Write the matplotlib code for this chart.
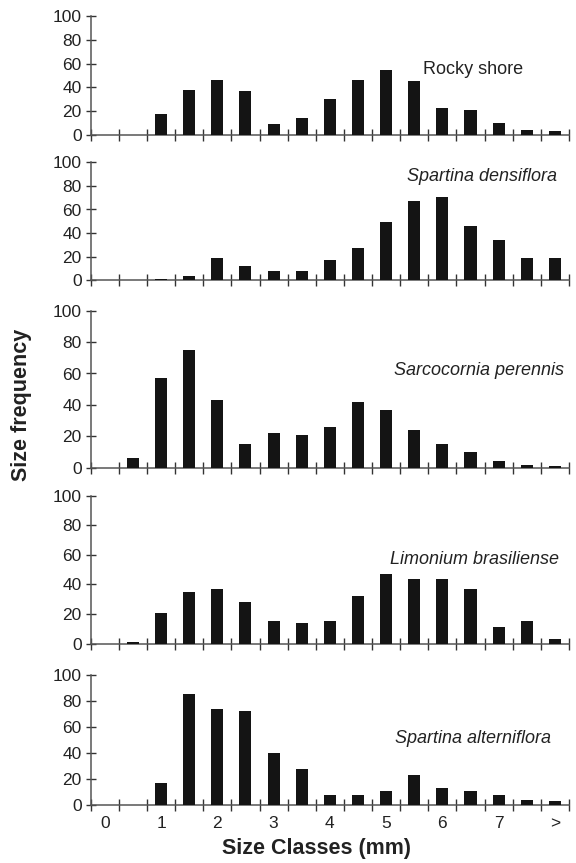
"""
Size-class frequency histograms for five habitats
(stacked panels, shared size-class axis).
"""

import numpy as np
import matplotlib
matplotlib.use("Agg")
import matplotlib.pyplot as plt


# ---------------------------------------------------------
# Data
# ---------------------------------------------------------

class_labels = ["0", "1", "2", "3", "4", "5", "6", "7", ">"]

habitats = [
    "Rocky shore",
    "Spartina densiflora",
    "Sarcocornia perennis",
    "Limonium brasiliense",
    "Spartina alterniflora",
]

rocky_shore = [0, 0, 18, 38, 46, 37, 9, 14, 30, 46, 55, 45, 23, 21, 10, 4, 3]
spartina_densiflora = [0, 0, 1.5, 4, 19, 12, 8, 8, 17, 27, 49, 67, 71, 46, 34, 19, 19]
sarcocornia_perennis = [0, 6, 57, 75, 43, 15, 22, 21, 26, 42, 37, 24, 15, 10, 4, 2, 1]
limonium_brasiliense = [0, 1, 21, 35, 37, 28, 15, 14, 15, 32, 47, 44, 44, 37, 11, 15, 3]
spartina_alterniflora = [0, 0, 17, 85, 74, 72, 40, 28, 8, 8, 11, 23, 13, 11, 8, 4, 3]

series = [rocky_shore, spartina_densiflora, sarcocornia_perennis,
          limonium_brasiliense, spartina_alterniflora]


# ---------------------------------------------------------
# Layout (pixels in a 576 x 863 canvas)
# ---------------------------------------------------------

W, H = 576, 863
X0, X1 = 90.7, 569
panel_px = [(16, 135), (162.3, 280.3), (310.7, 467.7), (495.7, 643.7), (674.7, 805)]

# label anchor (right edge, axes fraction x, data y)
label_pos = [(0.905, 55), (0.975, 88), (0.99, 62), (0.98, 57), (0.963, 51)]
label_style = ["normal", "italic", "italic", "italic", "italic"]

BAR = "#141414"
AXC = "#555555"
TXT = "#222222"

plt.rcParams["font.family"] = ["Liberation Sans", "DejaVu Sans"]


def draw_panel(ax, values, name, pos, style, last):

    n = len(values)
    x = np.arange(n) + 0.5

    ax.bar(x, values, width=0.43, color=BAR, edgecolor="none", zorder=3)

    ax.set_xlim(0, n)
    ax.set_ylim(0, 100)

    for s in ["top", "right"]:
        ax.spines[s].set_visible(False)
    for s in ["left", "bottom"]:
        ax.spines[s].set_color(AXC)
        ax.spines[s].set_linewidth(1.1)

    ax.set_yticks([0, 20, 40, 60, 80, 100])
    ax.tick_params(axis="y", direction="inout", length=7, width=1.0,
                   color="#333333", labelsize=12.5, labelcolor=TXT, pad=3)

    ax.set_xticks(np.arange(n + 1))
    ax.set_xticklabels([])
    ax.tick_params(axis="x", which="major", direction="inout", length=9,
                   width=1.0, color="#333333")

    if last:
        ax.set_xticks(np.arange(0, n, 2) + 0.5, minor=True)
        ax.set_xticklabels(class_labels, minor=True)
        ax.tick_params(axis="x", which="minor", length=0, labelsize=12.5,
                       labelcolor=TXT, pad=8)

    ax.text(pos[0], pos[1], name, transform=ax.get_yaxis_transform(),
            ha="right", va="center", fontsize=13, style=style, color=TXT)


def main():

    fig = plt.figure(figsize=(W / 100, H / 100), dpi=100)

    for i, (vals, name) in enumerate(zip(series, habitats)):
        top, bot = panel_px[i]
        ax = fig.add_axes([X0 / W, 1 - bot / H, (X1 - X0) / W, (bot - top) / H])
        draw_panel(ax, vals, name, label_pos[i], label_style[i], i == len(series) - 1)

    fig.text(22 / W, 1 - 405 / H, "Size frequency", rotation=90, ha="center",
             va="center", fontsize=15.5, fontweight="bold", color=TXT)
    fig.text(316 / W, 1 - 848 / H, "Size Classes (mm)", ha="center",
             va="center", fontsize=15.5, fontweight="bold", color=TXT)

    fig.savefig("out.png", dpi=100)


if __name__ == "__main__":
    main()
